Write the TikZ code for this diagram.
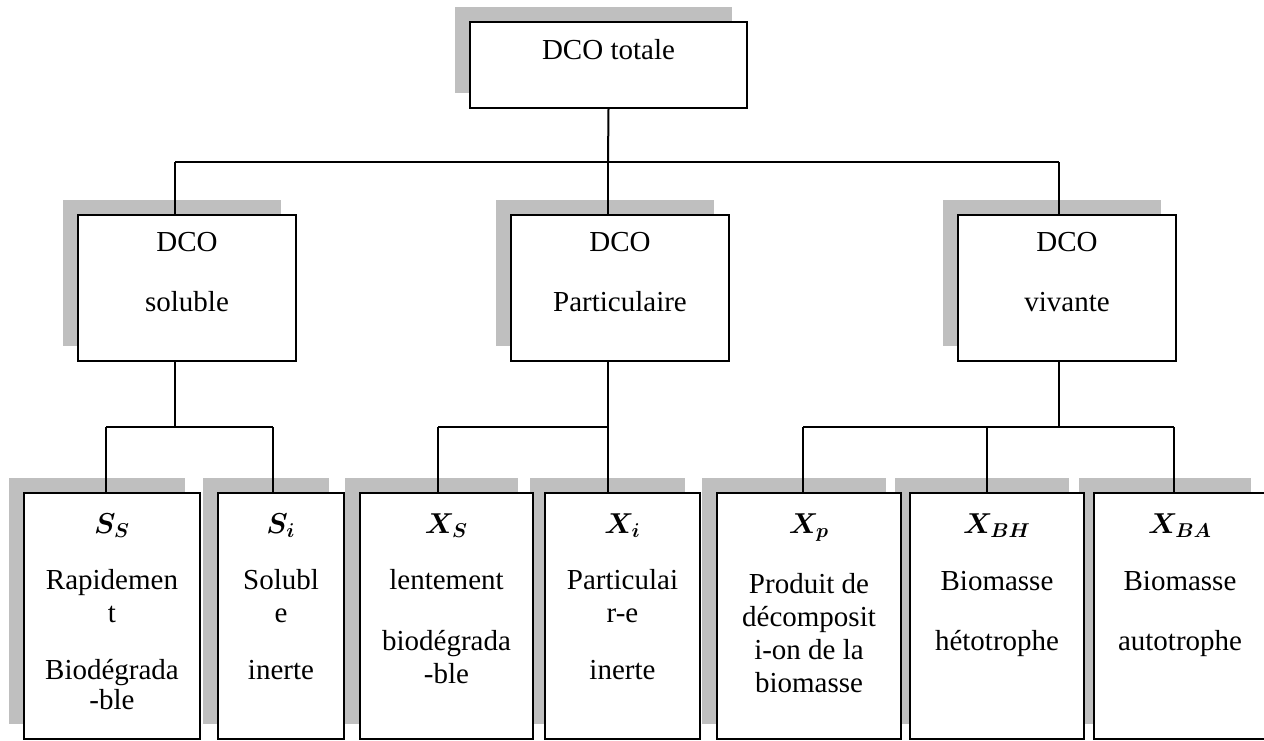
\documentclass[tikz,border=0pt]{standalone}
\usepackage{fontspec}
\setmainfont{Liberation Serif}
\usepackage{amsmath}
\usepackage{bm}
\usetikzlibrary{shadows,positioning}
\tikzset{
    box/.style={draw,line width=1pt,fill=white,anchor=north west,inner sep=0pt,
        drop shadow={shadow xshift=-7.5pt,shadow yshift=7.5pt,fill=black!25,opacity=1,draw=none}},
    rootbox/.style={box,minimum width=138.5pt,minimum height=43pt},
    midbox/.style={box,minimum width=109pt,minimum height=73pt},
    leafbox/.style={box,minimum height=123pt},
    lbl/.style={align=center,inner sep=0pt,anchor=north,font=\fontsize{14.5}{16.5}\selectfont},
    link/.style={line width=1pt},
    }

\begin{document}
\begin{tikzpicture}[x=0.5pt,y=-0.5pt]
    \useasboundingbox (0,0) rectangle (1264,740);

    % root
    \node[rootbox] (tot) at (469,21) {};
    \node[lbl,below=9pt of tot.north] (tot-t) {DCO totale};

    % second level
    \node[midbox] (sol) at (77,214) {};
    \node[midbox] (part) at (510,214) {};
    \node[midbox] (viv) at (957,214) {};
    \node[lbl,below=9pt of sol.north] (sol-t) {DCO\\[13.5pt]soluble};
    \node[lbl,below=9pt of part.north] (part-t) {DCO\\[13.5pt]Particulaire};
    \node[lbl,below=9pt of viv.north] (viv-t) {DCO\\[13.5pt]vivante};

    % leaves (right to left, so each border stays above the next shadow)
    \node[leafbox,minimum width=86pt] (xba) at (1093,492) {};
    \node[leafbox,minimum width=87pt] (xbh) at (909,492) {};
    \node[leafbox,minimum width=92pt] (xp) at (716,492) {};
    \node[leafbox,minimum width=77.5pt] (xi) at (544,492) {};
    \node[leafbox,minimum width=86.5pt] (xs) at (359,492) {};
    \node[leafbox,minimum width=63pt] (si) at (217,492) {};
    \node[leafbox,minimum width=88pt] (ss) at (23,492) {};

    \node[lbl,below=10.5pt of ss.north] (ss-t) {$\bm{S_S}$\\[11.5pt]Rapidemen\\t\\[12pt]Biodégrada\\[-1.5pt]-ble};
    \node[lbl,below=10.5pt of si.north] (si-t) {$\bm{S_i}$\\[11.5pt]Solubl\\e\\[12pt]inerte};
    \node[lbl,below=10.5pt of xs.north] (xs-t) {$\bm{X_S}$\\[11.5pt]lentement\\[14pt]biodégrada\\-ble};
    \node[lbl,below=10.5pt of xi.north] (xi-t) {$\bm{X_i}$\\[11.5pt]Particulai\\r-e\\[12pt]inerte};
    \node[lbl,below=10.5pt of xp.north] (xp-t) {$\bm{X_p}$\\[13.5pt]Produit de\\décomposit\\i-on de la\\biomasse};
    \node[lbl,below=10.5pt of xbh.north] (xbh-t) {$\bm{X_{BH}}$\\[12pt]Biomasse\\[13.5pt]hétotrophe};
    \node[lbl,below=10.5pt of xba.north] (xba-t) {$\bm{X_{BA}}$\\[12pt]Biomasse\\[13.5pt]autotrophe};

    % junctions
    \coordinate (b0) at (608,162);
    \coordinate (b1) at (175,162);
    \coordinate (b2) at (1059,162);
    \coordinate (j1) at (175,427);
    \coordinate (j2) at (608,427);
    \coordinate (j3) at (1059,427);
    \coordinate (k1) at (106,427);
    \coordinate (k2) at (273,427);
    \coordinate (k3) at (438,427);
    \coordinate (k4) at (608,427);
    \coordinate (k5) at (803,427);
    \coordinate (k6) at (987,427);
    \coordinate (k7) at (1174,427);

    \draw[link] (tot.south) -- (b0);
    \draw[link] (b1) -- (b2);
    \draw[link] (b1) -- (b1 |- sol.north);
    \draw[link] (b0) -- (b0 |- part.north);
    \draw[link] (b2) -- (b2 |- viv.north);

    \draw[link] (sol.south -| j1) -- (j1);
    \draw[link] (part.south -| j2) -- (j2);
    \draw[link] (viv.south -| j3) -- (j3);
    \draw[link] (k1) -- (k2);
    \draw[link] (k3) -- (k4);
    \draw[link] (k5) -- (k7);
    \foreach \k/\n in {k1/ss,k2/si,k3/xs,k4/xi,k5/xp,k6/xbh,k7/xba}
        \draw[link] (\k) -- (\k |- \n.north);
\end{tikzpicture}
\end{document}
